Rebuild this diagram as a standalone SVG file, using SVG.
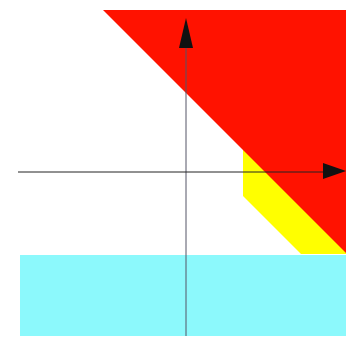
<svg xmlns="http://www.w3.org/2000/svg" width="346" height="338" viewBox="0 0 346 338">
<style>
.axis{stroke:#222;stroke-width:1;fill:none}
.vaxis{stroke:#556;stroke-width:1;fill:none}
.head{fill:#111}
</style>
<rect width="346" height="338" fill="#fff"/>
<g id="cyan"><rect x="20" y="255" width="326" height="81" fill="#8cf9fc"/></g>
<g id="yellow"><polygon points="243,140 243,196 301,254 346,254 346,140" fill="#ffff00"/></g>
<g id="red"><polygon points="103,10 346,10 346,253" fill="#ff1200"/></g>
<g id="connectors">
<line class="vaxis" x1="186" y1="40" x2="186" y2="336"/>
<polygon class="head" points="186,18 179,48 193,48"/>
<line class="axis" x1="18" y1="172" x2="330" y2="172"/>
<polygon class="head" points="346,171 323,163 323,179"/>
</g>
</svg>
